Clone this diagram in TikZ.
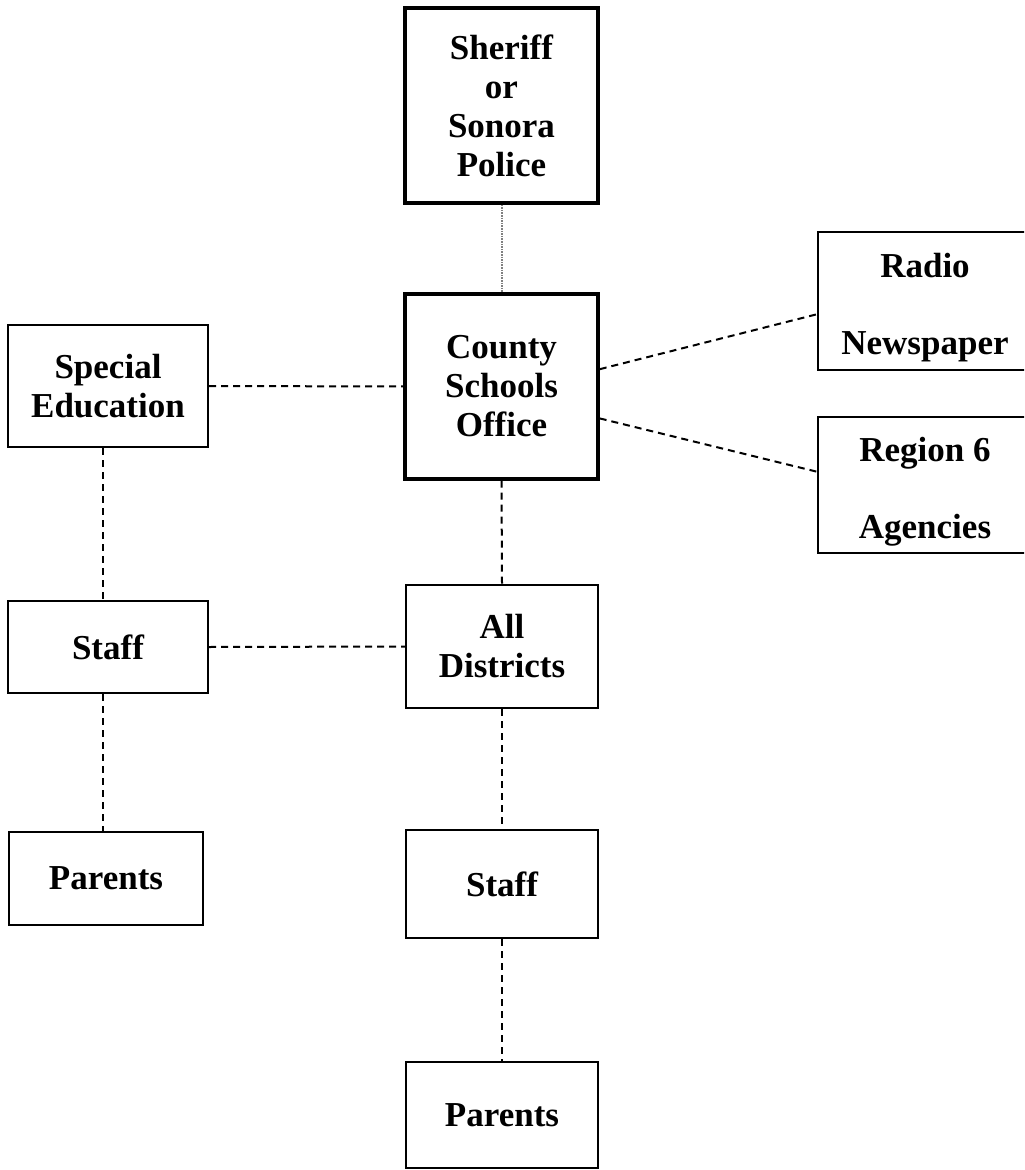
\documentclass[tikz,border=0pt]{standalone}
\usepackage{fontspec}
\setmainfont{Liberation Serif}
\usepackage{tikz}
\usetikzlibrary{positioning}

\tikzset{
	box/.style={draw,line width=1pt,inner sep=0pt,align=center,
		font=\bfseries\fontsize{17.5}{19.5}\selectfont},
	bigbox/.style={box,line width=1.7pt},
	link/.style={line width=1pt,dash pattern=on 3.5pt off 2.5pt},
	faint/.style={line width=1pt,gray,dash pattern=on 0.8pt off 0.5pt}
}
\newcommand{\twolines}[2]{\raisebox{-3.5pt}[\height][\depth]{\begin{tabular}{@{}c@{}}#1\\[19pt]#2\end{tabular}}}

\begin{document}
\begin{tikzpicture}[x=0.5pt,y=-0.5pt]
	\useasboundingbox (0,0) rectangle (1024,1170);
	\clip (0,0) rectangle (1024,1170);
	% centre column
	\node[bigbox,minimum width=96.5pt,minimum height=97.5pt] (sheriff) at (501.5,105.5) {Sheriff\\or\\Sonora\\Police};
	\node[bigbox,minimum width=96.5pt,minimum height=92.5pt] (county) at (501.5,386.5) {County\\Schools\\Office};
	\node[box,minimum width=96pt,minimum height=61.5pt] (alldist) at (502,646.5) {All\\Districts};
	\node[box,minimum width=96pt,minimum height=54pt] (staffM) at (502,884) {Staff};
	\node[box,minimum width=96pt,minimum height=53pt] (parentsM) at (502,1115) {Parents};
	% left column
	\node[box,minimum width=100pt,minimum height=61pt] (special) at (108,386) {Special\\Education};
	\node[box,minimum width=100pt,minimum height=46pt] (staffL) at (108,647) {Staff};
	\node[box,minimum width=97pt,minimum height=46.5pt] (parentsL) at (106,878.5) {Parents};
	% right side, cut off by the page edge
	\node[box,minimum width=107pt,minimum height=69pt] (radio) at (925,301) {\twolines{Radio}{Newspaper}};
	\node[box,minimum width=107pt,minimum height=68pt] (region) at (925,485) {\twolines{Region 6}{Agencies}};

	\draw[faint] (sheriff.south) -- (county.north);
	\draw[link] (county.south) -- (alldist.north);
	\draw[link] (alldist.south) -- (staffM.north);
	\draw[link] (staffM.south) -- (parentsM.north);
	\draw[link] (special.east) -- (county.west);
	\draw[link] (staffL.east) -- (alldist.west);
	\draw[link] ([xshift=-2.5pt]special.south) -- ([xshift=-2.5pt]staffL.north);
	\draw[link] ([xshift=-2.5pt]staffL.south) -- ([xshift=-2.5pt]parentsL.north -| staffL.south);
	\draw[link] (county.10) -- (radio.187);
	\draw[link] (county.-18) -- (region.173);
\end{tikzpicture}
\end{document}
